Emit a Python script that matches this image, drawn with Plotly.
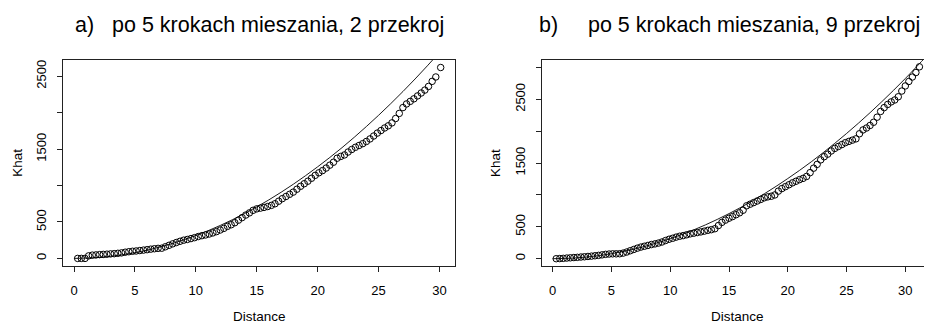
import plotly.graph_objects as go

# ---------------- data ----------------
# panel a) po 5 krokach mieszania, 2 przekroj
a_dist = [0.3, 0.6, 0.9, 1.2, 1.5, 1.8, 2.1, 2.4, 2.7, 3.0,
          3.3, 3.6, 3.9, 4.2, 4.5, 4.8, 5.1, 5.4, 5.7, 6.0,
          6.3, 6.6, 6.9, 7.2, 7.5, 7.8, 8.1, 8.4, 8.7, 9.0,
          9.3, 9.6, 9.9, 10.2, 10.5, 10.8, 11.1, 11.4, 11.7, 12.0,
          12.3, 12.6, 12.9, 13.2, 13.5, 13.8, 14.1, 14.4, 14.7, 15.0,
          15.3, 15.6, 15.9, 16.2, 16.5, 16.8, 17.1, 17.4, 17.7, 18.0,
          18.3, 18.6, 18.9, 19.2, 19.5, 19.8, 20.1, 20.4, 20.7, 21.0,
          21.3, 21.6, 21.9, 22.2, 22.5, 22.8, 23.1, 23.4, 23.7, 24.0,
          24.3, 24.6, 24.9, 25.2, 25.5, 25.8, 26.1, 26.4, 26.7, 27.0,
          27.3, 27.6, 27.9, 28.2, 28.5, 28.8, 29.1, 29.4, 29.7, 30.1]
a_khat = [0, 0, 0, 35, 45, 48, 52, 55, 58, 62,
          65, 70, 76, 85, 92, 98, 102, 108, 114, 120,
          127, 133, 138, 140, 160, 180, 200, 218, 235, 250,
          260, 272, 285, 300, 312, 322, 335, 350, 368, 390,
          412, 440, 462, 490, 525, 560, 595, 625, 660, 680,
          690, 700, 712, 728, 750, 785, 820, 850, 880, 910,
          950, 990, 1025, 1060, 1100, 1140, 1175, 1205, 1240, 1280,
          1320, 1375, 1400, 1420, 1460, 1495, 1525, 1550, 1575, 1605,
          1640, 1680, 1720, 1755, 1790, 1820, 1860, 1920, 1990, 2070,
          2120, 2155, 2190, 2230, 2270, 2310, 2360, 2430, 2490, 2620]

# panel b) po 5 krokach mieszania, 9 przekroj
b_dist = [0.3, 0.6, 0.9, 1.2, 1.5, 1.8, 2.1, 2.4, 2.7, 3.0,
          3.3, 3.6, 3.9, 4.2, 4.5, 4.8, 5.1, 5.4, 5.7, 6.0,
          6.3, 6.6, 6.9, 7.2, 7.5, 7.8, 8.1, 8.4, 8.7, 9.0,
          9.3, 9.6, 9.9, 10.2, 10.5, 10.8, 11.1, 11.4, 11.7, 12.0,
          12.3, 12.6, 12.9, 13.2, 13.5, 13.8, 14.1, 14.4, 14.7, 15.0,
          15.3, 15.6, 15.9, 16.2, 16.5, 16.8, 17.1, 17.4, 17.7, 18.0,
          18.3, 18.6, 18.9, 19.2, 19.5, 19.8, 20.1, 20.4, 20.7, 21.0,
          21.3, 21.6, 21.9, 22.2, 22.5, 22.8, 23.1, 23.4, 23.7, 24.0,
          24.3, 24.6, 24.9, 25.2, 25.5, 25.8, 26.1, 26.4, 26.7, 27.0,
          27.3, 27.6, 27.9, 28.2, 28.5, 28.8, 29.1, 29.4, 29.7, 30.0,
          30.3, 30.6, 30.9, 31.2]
b_khat = [0, 2, 5, 10, 14, 18, 21, 26, 30, 35,
          40, 46, 52, 60, 68, 73, 76, 76, 78, 88,
          105, 125, 145, 165, 182, 195, 208, 222, 232, 245,
          262, 285, 305, 320, 338, 352, 362, 375, 390, 400,
          410, 420, 432, 445, 455, 470, 520, 570, 605, 635,
          660, 690, 720, 760, 830, 855, 880, 905, 930, 955,
          970, 980, 1000, 1060, 1100, 1130, 1160, 1190, 1215, 1240,
          1260, 1290, 1350, 1420, 1480, 1550, 1600, 1640, 1690, 1730,
          1760, 1790, 1820, 1840, 1860, 1880, 1960, 2020, 2050, 2090,
          2140, 2220, 2310, 2370, 2420, 2460, 2490, 2540, 2630, 2710,
          2780, 2850, 2920, 3010]

# reference (theoretical) curve
ref_dist = [0, 2, 4, 6, 8, 10, 12, 14, 16, 18, 20, 22, 24, 26, 28, 30, 32]
ref_khat = [0, 13, 50, 113, 201, 314, 452, 616, 804, 1018, 1257, 1520,
            1810, 2124, 2463, 2827, 3217]

x_ticks = [0, 5, 10, 15, 20, 25, 30]
a_yticks = [0, 500, 1000, 1500, 2000, 2500]
a_ylabels = ["0", "500", "", "1500", "", "2500"]
b_yticks = [0, 500, 1000, 1500, 2000, 2500, 3000]
b_ylabels = ["0", "500", "", "1500", "", "2500", ""]

titles = ["a)\u00a0\u00a0 po 5 krokach mieszania, 2 przekroj",
          "b)\u00a0\u00a0\u00a0\u00a0 po 5 krokach mieszania, 9 przekroj"]
x_title = "Distance"
y_title = "Khat"

# ---------------- figure ----------------
# the page body has an 8px margin, so the figure is 8px smaller and
# reference pixel positions are shifted by that offset
OFF = 8
W, H = 932 - OFF, 323 - OFF
FONT = "Liberation Sans, Arial, Helvetica, sans-serif"

def px(x):
    return (x - OFF) / W

def py(y):
    return 1 - (y - OFF) / H

fig = go.Figure()

marker = dict(symbol="circle-open", size=6.5, color="black", line=dict(width=1.0))
line = dict(color="black", width=0.9, shape="spline")

fig.add_trace(go.Scatter(x=a_dist, y=a_khat, mode="markers", marker=marker,
                         xaxis="x", yaxis="y", showlegend=False))
fig.add_trace(go.Scatter(x=ref_dist, y=ref_khat, mode="lines", line=line,
                         xaxis="x", yaxis="y", showlegend=False))
fig.add_trace(go.Scatter(x=b_dist, y=b_khat, mode="markers", marker=marker,
                         xaxis="x2", yaxis="y2", showlegend=False))
fig.add_trace(go.Scatter(x=ref_dist, y=ref_khat, mode="lines", line=line,
                         xaxis="x2", yaxis="y2", showlegend=False))

ydom = [py(265.7), py(60)]
axis_common = dict(showgrid=False, zeroline=False, showline=True,
                   linecolor="#222", linewidth=1, ticks="outside",
                   ticklen=5, tickwidth=1, tickcolor="#222",
                   tickfont=dict(family=FONT, size=13, color="black"))

fig.update_layout(
    width=W, height=H,
    margin=dict(l=0, r=0, t=0, b=0),
    paper_bgcolor="white", plot_bgcolor="white",
    font=dict(family=FONT, color="black"),
    xaxis=dict(domain=[px(63.3), px(455.3)], range=[-0.88, 31.3],
               tickvals=x_ticks, mirror=True, anchor="y",
               ticklabelstandoff=8, **axis_common),
    yaxis=dict(domain=ydom, range=[-100, 2723], tickvals=a_yticks,
               ticktext=a_ylabels, tickangle=-90, mirror=True, anchor="x",
               ticklabelstandoff=6, **axis_common),
    xaxis2=dict(domain=[px(542), 1.0], range=[-0.91, 32.27],
                tickvals=x_ticks, mirror=True, anchor="y2",
                ticklabelstandoff=8, **axis_common),
    yaxis2=dict(domain=ydom, range=[-110, 3117], tickvals=b_yticks,
                ticktext=b_ylabels, tickangle=-90, mirror=False, anchor="x2",
                ticklabelstandoff=6, **axis_common),
)

ann = []
ann.append(dict(text=titles[0], x=px(259), y=py(25), xref="paper", yref="paper",
                showarrow=False, xanchor="center", yanchor="middle",
                font=dict(family=FONT, size=21.5, color="black")))
ann.append(dict(text=titles[1], x=px(922), y=py(25), xref="paper", yref="paper",
                showarrow=False, xanchor="right", yanchor="middle",
                font=dict(family=FONT, size=21.5, color="black")))
for cx in (259, 737):
    ann.append(dict(text=x_title, x=px(cx), y=py(316), xref="paper", yref="paper",
                    showarrow=False, xanchor="center", yanchor="middle",
                    font=dict(family=FONT, size=13.5, color="black")))
for cx in (16.7, 495):
    ann.append(dict(text=y_title, x=px(cx), y=py(163), xref="paper", yref="paper",
                    showarrow=False, xanchor="center", yanchor="middle",
                    textangle=-90, font=dict(family=FONT, size=13.5, color="black")))
fig.update_layout(annotations=ann)

fig.write_html("out.html")
